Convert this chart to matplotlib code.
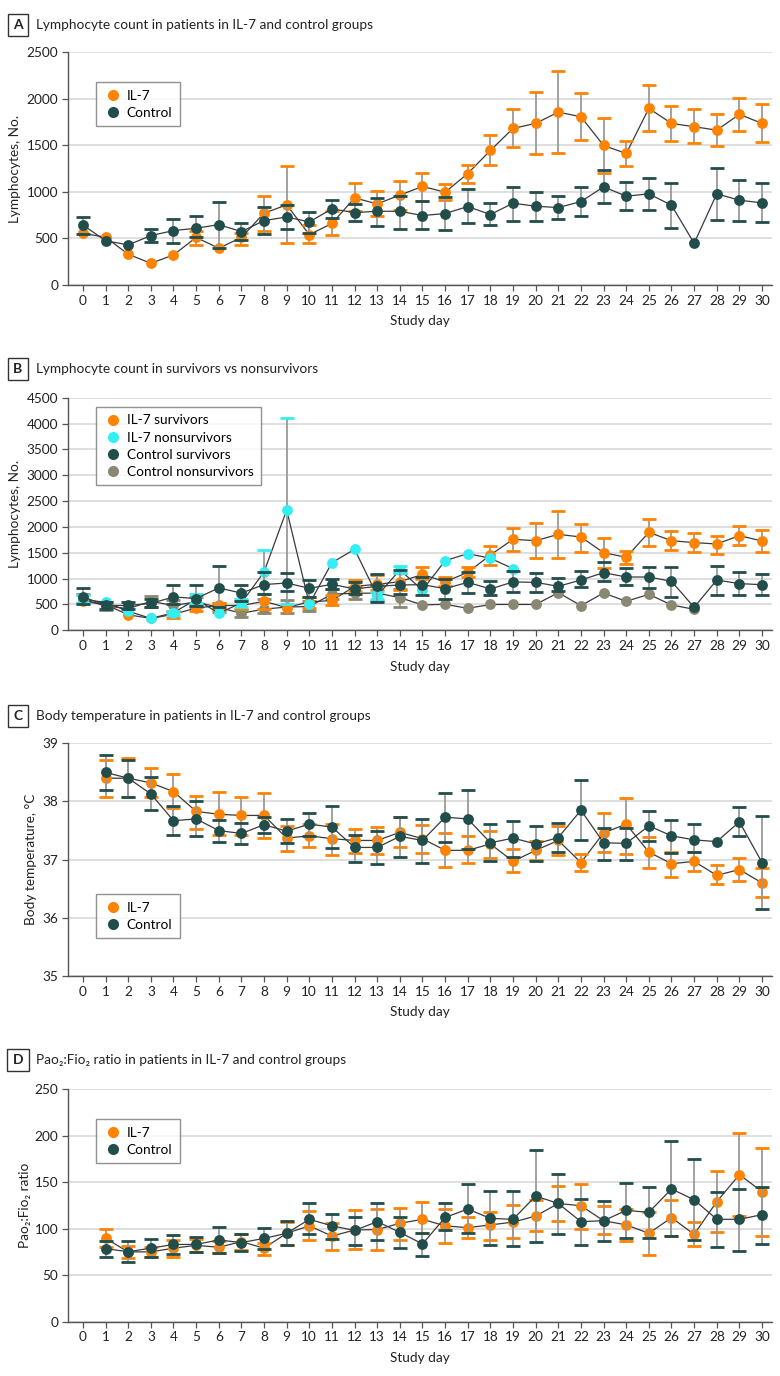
import numpy as np
import matplotlib
matplotlib.use("Agg")
import matplotlib.pyplot as plt
from matplotlib.lines import Line2D

plt.rcParams['font.family'] = ['Lato', 'DejaVu Sans']

nan = np.nan
days = list(range(31))
day_labels = [str(d) for d in days]

# ---------------- Panel A: lymphocytes IL-7 vs control ----------------
a_il7 = [555, 512, 330, 233, 322, 510, 395, 510, 770, 860, 540, 660, 935, 870, 965, 1057, 996,
         1196, 1444, 1680, 1734, 1855, 1805, 1497, 1411, 1895, 1734, 1698, 1662, 1831, 1734]
a_il7_lo = [nan, nan, nan, nan, nan, 430, nan, 430, 580, 450, 455, 540, 790, 740, 800, 903, 913,
            1093, 1286, 1479, 1401, 1411, 1555, 1204, 1275, 1648, 1547, 1519, 1490, 1651, 1530]
a_il7_hi = [nan, nan, nan, nan, nan, 580, nan, 560, 960, 1275, 640, 790, 1090, 1010, 1121, 1197, 1089,
            1289, 1605, 1884, 2070, 2300, 2056, 1795, 1547, 2142, 1920, 1884, 1834, 2010, 1938]
a_ctl = [644, 475, 430, 530, 584, 609, 648, 573, 691, 730, 677, 817, 777, 791, 791, 745, 767,
         842, 756, 878, 845, 831, 895, 1053, 953, 978, 856, 448, 978, 910, 881]
a_ctl_lo = [550, nan, nan, 460, 450, 510, 400, 480, 545, 600, 560, 720, 685, 635, 600, 600, 590,
            660, 640, 690, 690, 710, 740, 880, 810, 810, 610, nan, 700, 690, 680]
a_ctl_hi = [730, nan, nan, 600, 710, 740, 895, 670, 840, 860, 780, 915, 870, 935, 950, 900, 940,
            1030, 880, 1050, 1000, 960, 1050, 1230, 1110, 1150, 1090, nan, 1260, 1130, 1090]

# ---------------- Panel B: survivors vs nonsurvivors ----------------
b_il7_s = [560, 500, 300, 230, 310, 430, 480, 480, 560, 440, 550, 575, 850, 890, 940, 1080, 940,
           1120, 1457, 1760, 1734, 1857, 1805, 1502, 1412, 1895, 1734, 1696, 1670, 1831, 1728]
b_il7_s_lo = [nan, nan, nan, nan, 230, 370, 400, 420, 420, nan, 430, 480, 760, 780, 780, 1000, 860,
              1031, 1260, 1541, 1400, 1400, 1520, 1200, 1280, 1640, 1560, 1520, 1480, 1650, 1520]
b_il7_s_hi = [nan, nan, nan, nan, 380, 500, 520, 560, 700, nan, 650, 680, 980, 1070, 1100, 1230, 1040,
              1231, 1640, 1979, 2070, 2300, 2060, 1790, 1540, 2150, 1920, 1880, 1830, 2010, 1940]
b_il7_n = [600, 540, 370, 230, 340, 600, 330, 530, 1128, 2327, 509, 1309, 1567, 670, 1167, 780, 1347,
           1483, 1393, 1193, nan, nan, nan, nan, nan, nan, nan, nan, nan, nan, nan]
b_il7_n_lo = [520, nan, nan, nan, 300, 520, nan, 460, 700, 500, nan, nan, nan, 600, 1100, nan, nan,
              nan, nan, nan, nan, nan, nan, nan, nan, nan, nan, nan, nan, nan, nan]
b_il7_n_hi = [680, nan, nan, nan, 380, 700, nan, 600, 1554, 4113, nan, nan, nan, 740, 1240, nan, nan,
              nan, nan, nan, nan, nan, nan, nan, nan, nan, nan, nan, nan, nan, nan]
b_ctl_s = [650, 480, 480, 520, 645, 615, 820, 720, 885, 915, 812, 890, 800, 851, 877, 883, 806,
           928, 800, 935, 928, 851, 973, 1115, 1031, 1031, 948, 445, 973, 903, 883]
b_ctl_s_lo = [510, 420, 420, 450, 500, 470, 450, 560, 700, 760, 650, 790, 700, 550, 700, 680, 600,
              730, 680, 750, 750, 760, 830, 960, 870, 820, 650, nan, 690, 680, 680]
b_ctl_s_hi = [825, 540, 540, 600, 880, 880, 1250, 870, 1120, 1100, 980, 1000, 940, 1090, 1160, 1040, 990,
              1130, 950, 1150, 1100, 1010, 1140, 1330, 1200, 1230, 1230, nan, 1250, 1130, 1080]
b_ctl_n = [600, 470, 420, 560, 480, 550, 440, 330, 410, 450, 460, 700, 716, 720, 632, 490, 503,
           425, 500, 500, 500, 728, 477, 722, 561, 696, 490, 406, nan, nan, nan]
b_ctl_n_lo = [520, 400, nan, 460, 380, 450, 350, 260, 330, 330, 370, 600, 600, 560, 460, nan, nan,
              nan, nan, nan, nan, nan, nan, nan, nan, nan, nan, nan, nan, nan, nan]
b_ctl_n_hi = [700, 540, nan, 660, 580, 650, 520, 400, 600, 580, 560, 800, 830, 880, 800, nan, nan,
              nan, nan, nan, nan, nan, nan, nan, nan, nan, nan, nan, nan, nan, nan]

# ---------------- Panel C: body temperature ----------------
c_il7 = [nan, 38.40, 38.40, 38.32, 38.17, 37.83, 37.78, 37.76, 37.76, 37.37, 37.41, 37.36, 37.33, 37.33,
         37.47, 37.36, 37.16, 37.16, 37.27, 36.97, 37.16, 37.33, 36.95, 37.46, 37.61, 37.13, 36.93,
         36.97, 36.73, 36.83, 36.60]
c_il7_lo = [nan, 38.08, 38.08, 38.07, 37.88, 37.53, 37.42, 37.43, 37.38, 37.15, 37.22, 37.08, 37.12, 37.10,
            37.21, 37.11, 36.88, 36.94, 37.02, 36.78, 36.99, 37.08, 36.80, 37.13, 37.10, 36.86, 36.71,
            36.80, 36.58, 36.63, 36.36]
c_il7_hi = [nan, 38.72, 38.74, 38.57, 38.47, 38.10, 38.16, 38.08, 38.15, 37.58, 37.62, 37.62, 37.53, 37.56,
            37.73, 37.60, 37.45, 37.40, 37.50, 37.18, 37.32, 37.58, 37.10, 37.80, 38.06, 37.39, 37.13,
            37.14, 36.90, 37.03, 36.85]
c_ctl = [nan, 38.50, 38.40, 38.13, 37.67, 37.70, 37.50, 37.45, 37.60, 37.49, 37.61, 37.56, 37.21, 37.21,
         37.40, 37.33, 37.73, 37.70, 37.29, 37.37, 37.27, 37.38, 37.85, 37.29, 37.28, 37.58, 37.41,
         37.34, 37.31, 37.65, 36.95]
c_ctl_lo = [nan, 38.20, 38.08, 37.85, 37.42, 37.41, 37.31, 37.27, 37.45, 37.28, 37.40, 37.20, 36.96, 36.92,
            37.05, 36.95, 37.30, 37.18, 36.98, 37.05, 36.98, 37.13, 37.33, 37.00, 37.00, 37.32, 37.12,
            37.13, nan, 37.40, 36.15]
c_ctl_hi = [nan, 38.80, 38.72, 38.42, 37.92, 38.00, 37.68, 37.63, 37.74, 37.70, 37.80, 37.93, 37.43, 37.49,
            37.73, 37.70, 38.15, 38.20, 37.62, 37.66, 37.57, 37.63, 38.37, 37.55, 37.55, 37.84, 37.69,
            37.61, nan, 37.91, 37.75]

# ---------------- Panel D: PaO2:FiO2 ratio ----------------
d_il7 = [nan, 89.5, 75, 75, 79, 82, 80, 86, 79, 95, 103, 92, 98.5, 99, 105.7, 110, 103, 101, 104,
         107, 113.5, 127, 124.6, 108.5, 104, 95, 111.8, 93.8, 129, 158, 139.7]
d_il7_lo = [nan, 80, 68, 70, 70, 75, 74, 77, 72, 82, 88, 77, 78, 77, 88, 95, 85, 90, 88, 90, 97,
            108, 100, 94, 87, 72, 92, 81, 96, 114, 92]
d_il7_hi = [nan, 100, 81, 80, 88, 89, 87, 94, 85, 107, 119, 106, 120, 121, 122, 129, 121, 113, 118,
            125, 131, 146, 148, 124, 121, 118, 131, 107, 162, 203, 187]
d_ctl = [nan, 78.4, 75.2, 79, 83, 83, 87.8, 85, 89.5, 95, 110, 103, 98, 107.5, 96, 83.5, 112, 121,
         111, 110, 135, 127, 107.5, 108.5, 119.6, 117.5, 142.6, 131, 110, 110, 115]
d_ctl_lo = [nan, 70, 64, 70, 73, 75, 74, 76, 78, 82, 94, 89, 82, 88, 79.5, 71, 98, 95, 82, 81, 86,
            94, 82, 87, 90, 90, 92, 88, 80, 76, 84]
d_ctl_hi = [nan, 87, 87, 89, 93, 91, 102, 94, 101, 108, 127, 116, 112, 127, 112.5, 95, 127, 148,
            140, 140, 185, 159, 132, 130, 149, 145, 194, 175, 139, 143, 145]

ORANGE = '#FF8300'
DARK = '#214D4B'
CYAN = '#33EEF5'
OLIVE = '#8A8772'
LINE = '#3a3a3a'
EBAR = '#9a9a9a'
TXT = '#222222'
FS = 9.8

W, H = 780, 1376
fig = plt.figure(figsize=(W / 100, H / 100), dpi=100)


def ax_rect(top_px, bot_px, left_px=68, right_px=772):
    return [left_px / W, 1 - bot_px / H, (right_px - left_px) / W, (bot_px - top_px) / H]


def draw_series(ax, x, y, lo, hi, color, z):
    x = np.asarray(x, float)
    y = np.asarray(y, float)
    lo = np.asarray(lo, float)
    hi = np.asarray(hi, float)
    m = ~np.isnan(y)
    ax.plot(x[m], y[m], color=LINE, lw=0.9, zorder=z)
    e = m & ~np.isnan(lo) & ~np.isnan(hi)
    ax.vlines(x[e], lo[e], hi[e], color=EBAR, lw=1.3, zorder=z + 0.1)
    ax.plot(x[e], lo[e], ls='none', marker='_', ms=10, mew=2.0, color=color, zorder=z + 0.2)
    ax.plot(x[e], hi[e], ls='none', marker='_', ms=10, mew=2.0, color=color, zorder=z + 0.2)
    ax.plot(x[m], y[m], ls='none', marker='o', ms=7.8, color=color, mec='none', zorder=z + 0.3)


def style_ax(ax, ylim, yticks, ylabel, ylab_x_px):
    ax.set_xlim(-0.66, 30.44)
    ax.set_ylim(*ylim)
    ax.set_yticks(yticks)
    ax.set_xticks(days)
    ax.set_xticklabels(day_labels)
    for s in ['top', 'right']:
        ax.spines[s].set_visible(False)
    for s in ['left', 'bottom']:
        ax.spines[s].set_color('#555555')
        ax.spines[s].set_linewidth(1.0)
    ax.grid(axis='y', color='#dcdcdc', lw=1.3, zorder=0)
    ax.set_axisbelow(True)
    ax.tick_params(axis='both', labelsize=FS, colors=TXT, length=4, width=0.9,
                   color='#555555', pad=3)
    ax.set_ylabel(ylabel, fontsize=FS, color=TXT, va='center')
    ax.yaxis.set_label_coords((ylab_x_px - 68) / 704, 0.5)
    ax.set_xlabel('Study day', fontsize=FS, color=TXT, va='center')
    ax.xaxis.set_label_coords(0.5, -36.3 / 233)


def legend(ax, entries, loc_y):
    handles = [Line2D([], [], ls='none', marker='o', ms=8, color=c, mec='none', label=l)
               for l, c in entries]
    lg = ax.legend(handles=handles, loc='upper left', bbox_to_anchor=(0.04, loc_y),
                   frameon=True, fancybox=False, edgecolor='#777777', fontsize=FS,
                   handletextpad=0.3, borderpad=0.55, labelspacing=0.38, handlelength=1.4,
                   borderaxespad=0)
    lg.get_frame().set_linewidth(1.0)
    lg.set_zorder(20)


def panel_title(y_px, letter, text):
    fig.text(18 / W, 1 - y_px / H, letter, ha='center', va='center', fontsize=10, fontweight='bold',
             color=TXT, bbox=dict(boxstyle='square,pad=0.38', fc='white', ec='#333333', lw=1.0))
    fig.text(36 / W, 1 - y_px / H, text, ha='left', va='center', fontsize=9.8, color=TXT)


# Panel A
axA = fig.add_axes(ax_rect(52, 285))
draw_series(axA, days, a_il7, a_il7_lo, a_il7_hi, ORANGE, 3)
draw_series(axA, days, a_ctl, a_ctl_lo, a_ctl_hi, DARK, 4)
style_ax(axA, (0, 2500), [0, 500, 1000, 1500, 2000, 2500], 'Lymphocytes, No.', 15)
legend(axA, [('IL-7', ORANGE), ('Control', DARK)], 0.871)
panel_title(25, 'A', 'Lymphocyte count in patients in IL-7 and control groups')

# Panel B
axB = fig.add_axes(ax_rect(397.7, 630.3))
draw_series(axB, days, b_ctl_n, b_ctl_n_lo, b_ctl_n_hi, OLIVE, 2)
draw_series(axB, days, b_il7_s, b_il7_s_lo, b_il7_s_hi, ORANGE, 3)
draw_series(axB, days, b_il7_n, b_il7_n_lo, b_il7_n_hi, CYAN, 4)
draw_series(axB, days, b_ctl_s, b_ctl_s_lo, b_ctl_s_hi, DARK, 5)
style_ax(axB, (0, 4500), list(range(0, 4501, 500)), 'Lymphocytes, No.', 15)
legend(axB, [('IL-7 survivors', ORANGE), ('IL-7 nonsurvivors', CYAN),
             ('Control survivors', DARK), ('Control nonsurvivors', OLIVE)], 0.96)
panel_title(369, 'B', 'Lymphocyte count in survivors vs nonsurvivors')

# Panel C
axC = fig.add_axes(ax_rect(743.3, 976))
draw_series(axC, days, c_il7, c_il7_lo, c_il7_hi, ORANGE, 3)
draw_series(axC, days, c_ctl, c_ctl_lo, c_ctl_hi, DARK, 4)
style_ax(axC, (35, 39), [35, 36, 37, 38, 39], 'Body temperature, °C', 31)
legend(axC, [('IL-7', ORANGE), ('Control', DARK)], 0.352)
panel_title(716, 'C', 'Body temperature in patients in IL-7 and control groups')

# Panel D
axD = fig.add_axes(ax_rect(1089, 1321.7))
draw_series(axD, days, d_il7, d_il7_lo, d_il7_hi, ORANGE, 3)
draw_series(axD, days, d_ctl, d_ctl_lo, d_ctl_hi, DARK, 4)
style_ax(axD, (0, 250), [0, 50, 100, 150, 200, 250], 'Pao₂:Fio₂ ratio', 25)
legend(axD, [('IL-7', ORANGE), ('Control', DARK)], 0.871)
panel_title(1060, 'D', 'Pao₂:Fio₂ ratio in patients in IL-7 and control groups')

fig.savefig('out.png', dpi=100, facecolor='white')
